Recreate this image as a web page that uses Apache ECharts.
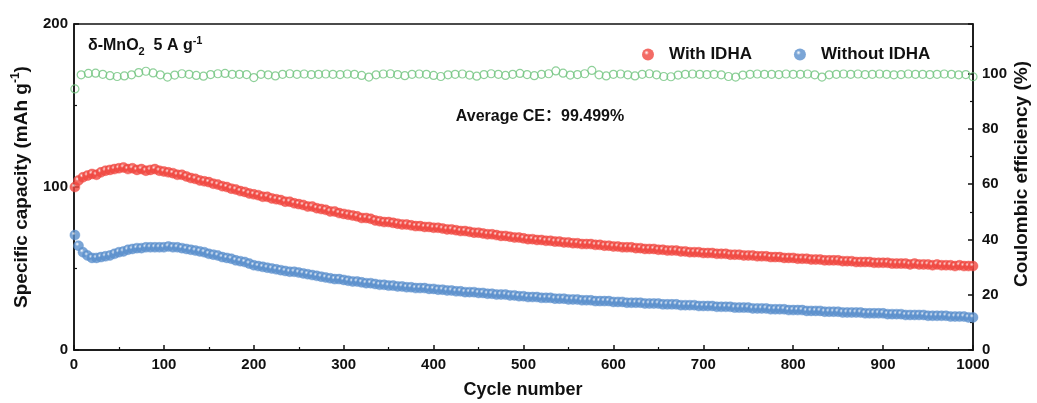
<!DOCTYPE html>
<html>
<head>
<meta charset="utf-8">
<script src="https://cdn.jsdelivr.net/npm/echarts@6/dist/echarts.min.js"></script>
<style>
    html, body { margin: 0; padding: 0; background: #fff; }
    #main { width: 1037px; height: 403px; }
</style>
</head>
<body>
<div id="main"></div>
<script>
// 容量 (mAh g-1)，第1圈以及之后每5圈一个点，到1000圈
var withIDHA = [
    100, 104, 106, 107, 108, 107.5, 109, 110, 110.5, 111, 111.5, 112, 111, 111.5, 110.5, 111, 110, 110.5, 111, 110,
    109.5, 109, 108.5, 107.5, 107.5, 106.5, 105.5, 105, 104, 103.5, 103, 102, 101.5, 100.5, 100, 99, 98.5, 97.5, 97, 96,
    95.5, 95, 94, 94, 93, 92.5, 92, 91, 91, 90, 89.5, 89, 88, 88, 87, 86.5, 86, 85, 85, 84,
    83.5, 83, 82.5, 82, 81, 81, 80.5, 79.5, 79, 78.5, 78.5, 78, 77.5, 77, 77, 76.5, 76, 76, 75.5, 75.5,
    75, 75, 74.5, 74, 74, 73.5, 73, 73, 72.5, 72, 72, 71.5, 71, 71, 70.5, 70, 70, 69.5, 69, 69,
    68.5, 68, 68, 67.5, 67.5, 67, 67, 66.5, 66.5, 66, 66, 65.5, 65.5, 65, 65, 65, 64.5, 64.5, 64, 64,
    63.5, 63.5, 63, 63, 63, 62.5, 62.5, 62, 62, 62, 61.5, 61.5, 61, 61, 61, 60.5, 60.5, 60, 60, 60,
    59.5, 59.5, 59.5, 59, 59, 59, 58.5, 58.5, 58.5, 58, 58, 58, 57.5, 57.5, 57.5, 57, 57, 57, 56.5, 56.5,
    56.5, 56, 56, 56, 55.5, 55.5, 55.5, 55, 55, 55, 55, 54.5, 54.5, 54.5, 54, 54, 54, 54, 53.5, 53.5,
    53.5, 53.5, 53, 53, 53, 53, 52.5, 53, 52.5, 52.5, 52.5, 52, 52.5, 52, 52, 52, 51.5, 52, 51.5, 51.5,
    51.5
];
var withoutIDHA = [
    70.5, 64, 60, 58, 56.5, 56.5, 57, 57.5, 58, 59, 60, 60.5, 61.5, 62, 62.5, 62.5, 63, 63, 63, 63,
    63, 63.5, 63, 63, 62.5, 62, 61.5, 61, 60.5, 60, 59, 58.5, 58, 57, 56.5, 56, 55, 54.5, 54, 53,
    52, 51.5, 51, 50.5, 50, 49.5, 49, 48.5, 48, 48, 47.5, 47, 46.5, 46, 45.5, 45, 44.5, 44, 43.5, 43.5,
    43, 42.5, 42, 42, 41.5, 41, 41, 40.5, 40, 40, 39.5, 39.5, 39, 39, 38.5, 38.5, 38, 38, 38, 37.5,
    37.5, 37, 37, 36.5, 36.5, 36, 36, 35.5, 35.5, 35.5, 35, 35, 34.5, 34.5, 34, 34, 34, 33.5, 33.5, 33,
    33, 32.5, 32.5, 32.5, 32, 32, 32, 31.5, 31.5, 31.5, 31, 31, 31, 30.5, 30.5, 30.5, 30, 30, 30, 30,
    29.5, 29.5, 29.5, 29, 29, 29, 29, 28.5, 28.5, 28.5, 28.5, 28, 28, 28, 28, 27.5, 27.5, 27.5, 27.5, 27,
    27, 27, 27, 26.5, 26.5, 26.5, 26.5, 26, 26, 26, 26, 25.5, 25.5, 25.5, 25.5, 25, 25, 25, 25, 24.5,
    24.5, 24.5, 24.5, 24, 24, 24, 24, 23.5, 23.5, 23.5, 23.5, 23, 23, 23, 23, 23, 22.5, 22.5, 22.5, 22.5,
    22.5, 22, 22, 22, 22, 21.5, 21.5, 21.5, 21.5, 21.5, 21, 21, 21, 21, 21, 20.5, 20.5, 20.5, 20.5, 20,
    20
];
// 库伦效率 (%)，第1圈以及之后每8圈一个点
var coulombicEff = [
    94.5, 99.6, 100.1, 100.2, 99.8, 99.3, 99.0, 99.2, 99.6, 100.4,
    100.9, 100.3, 99.6, 98.8, 99.5, 100.0, 99.8, 99.4, 99.1, 99.7,
    100.0, 100.1, 99.8, 99.8, 99.7, 98.6, 99.8, 99.6, 99.2, 99.8,
    100.0, 99.8, 99.9, 99.7, 99.8, 99.9, 99.8, 99.7, 99.9, 99.8,
    99.4, 98.8, 99.6, 99.9, 100.0, 99.7, 99.3, 99.8, 99.9, 99.8,
    99.4, 99.0, 99.6, 99.8, 99.9, 99.5, 99.1, 99.7, 100.0, 99.8,
    99.4, 99.8, 100.1, 99.7, 99.3, 99.8, 100.0, 101.0, 100.2, 99.5,
    99.7, 100.0, 101.2, 99.6, 99.2, 99.8, 99.9, 99.6, 99.2, 99.8,
    100.0, 99.6, 99.0, 98.9, 99.5, 99.8, 99.9, 99.8, 99.7, 99.8,
    99.6, 99.0, 98.8, 99.5, 99.8, 99.9, 99.8, 99.8, 99.7, 99.9,
    99.8, 99.8, 99.9, 99.6, 98.8, 99.6, 99.8, 99.9, 99.8, 99.9,
    99.7, 99.8, 99.9, 99.8, 99.6, 99.7, 99.9, 99.8, 99.8, 99.7,
    99.8, 99.9, 99.8, 99.6, 99.7, 98.9
];
var xTicks = [0, 100, 200, 300, 400, 500, 600, 700, 800, 900, 1000];
var capTicks = [0, 100, 200];
var ceTicks = [0, 20, 40, 60, 80, 100];

var capStep = 5;
var ceStep = 8;
function pairs(values, step) {
    return values.map(function (v, i) {
        return [i === 0 ? 1 : i * step, v];
    });
}

var FONT = 'Liberation Sans, Arial, Noto Sans CJK SC, sans-serif';
var RED = '#f0463f';
var BLUE = '#5a8fcc';
var GREEN = '#72c480';

// 带高光的小球
function ball(c) {
    return new echarts.graphic.RadialGradient(0.38, 0.35, 0.65, [
        { offset: 0, color: '#ffffff' },
        { offset: 0.3, color: c },
        { offset: 1, color: c }
    ]);
}

var myChart = echarts.init(document.getElementById('main'));

var labelStyle = { color: '#111', fontFamily: FONT, fontWeight: 'bold', fontSize: 15 };
var axisLineStyle = { lineStyle: { color: '#111', width: 1.5 } };
var tickStyle = { inside: true, length: 5, lineStyle: { color: '#111', width: 1.5 } };
var minorStyle = { show: true, splitNumber: 2, length: 3, lineStyle: { color: '#111', width: 1.2 } };

var option = {
    animation: false,
    grid: {
        left: 74, right: 64, top: 24, bottom: 53,
        show: true, borderColor: '#111', borderWidth: 1.5
    },
    legend: {
        left: 637, top: 41,
        itemWidth: 12, itemHeight: 12, itemGap: 42,
        textStyle: { color: '#111', fontFamily: FONT, fontWeight: 'bold', fontSize: 17, padding: [0, 0, 0, 10] },
        data: [
            { name: 'With IDHA', icon: 'circle', itemStyle: { color: ball(RED), borderWidth: 0 } },
            { name: 'Without IDHA', icon: 'circle', itemStyle: { color: ball(BLUE), borderWidth: 0 } }
        ]
    },
    xAxis: {
        type: 'value',
        min: xTicks[0], max: xTicks[xTicks.length - 1], interval: 100,
        axisLine: axisLineStyle,
        axisTick: tickStyle,
        minorTick: minorStyle,
        axisLabel: Object.assign({ margin: 7, formatter: function (v) { return String(v); } }, labelStyle),
        splitLine: { show: false }
    },
    yAxis: [{
        type: 'value',
        min: capTicks[0], max: capTicks[capTicks.length - 1], interval: 100,
        axisLine: axisLineStyle,
        axisTick: tickStyle,
        minorTick: minorStyle,
        axisLabel: Object.assign({ margin: 6 }, labelStyle),
        splitLine: { show: false }
    }, {
        type: 'value',
        position: 'right',
        min: ceTicks[0], max: 118, interval: 20,
        axisLine: { show: true, lineStyle: { color: '#111', width: 1.5 } },
        axisTick: tickStyle,
        minorTick: minorStyle,
        axisLabel: Object.assign({
            margin: 9,
            formatter: function (v) { return ceTicks.indexOf(v) >= 0 ? String(v) : ''; }
        }, labelStyle),
        splitLine: { show: false }
    }],
    series: [{
        name: 'CE',
        type: 'scatter',
        yAxisIndex: 1,
        symbol: 'circle',
        symbolSize: 8,
        itemStyle: { color: 'rgba(255,255,255,0)', borderColor: GREEN, borderWidth: 1.2 },
        data: pairs(coulombicEff, ceStep)
    }, {
        name: 'With IDHA',
        type: 'scatter',
        symbol: 'circle',
        symbolSize: 10,
        itemStyle: { color: ball(RED), borderColor: RED, borderWidth: 0.5 },
        data: pairs(withIDHA, capStep)
    }, {
        name: 'Without IDHA',
        type: 'scatter',
        symbol: 'circle',
        symbolSize: 10,
        itemStyle: { color: ball(BLUE), borderColor: BLUE, borderWidth: 0.5 },
        data: pairs(withoutIDHA, capStep)
    }],
    graphic: [{
        type: 'text', left: 88, top: 35,
        style: {
            text: '{a|δ-MnO}{s|2}{a|  5 A g}{p|-1}',
            fill: '#111', font: 'bold 16px ' + FONT,
            rich: {
                a: { fontFamily: FONT, fontWeight: 'bold', fontSize: 16, lineHeight: 22, fill: '#111' },
                s: { fontFamily: FONT, fontWeight: 'bold', fontSize: 11, lineHeight: 22, verticalAlign: 'bottom', fill: '#111' },
                p: { fontFamily: FONT, fontWeight: 'bold', fontSize: 11, lineHeight: 22, verticalAlign: 'top', fill: '#111' }
            }
        }
    }, {
        type: 'text', x: 540, y: 117,
        style: {
            text: 'Average CE：99.499%',
            fill: '#111', font: 'bold 16px ' + FONT,
            align: 'center', verticalAlign: 'middle'
        }
    }, {
        type: 'text', x: 523, y: 390,
        style: {
            text: 'Cycle number',
            fill: '#111', font: 'bold 18px ' + FONT,
            align: 'center', verticalAlign: 'middle'
        }
    }, {
        type: 'text', x: 22, y: 187, rotation: Math.PI / 2,
        style: {
            text: '{a|Specific capacity (mAh g}{p|-1}{a|)}',
            align: 'center', verticalAlign: 'middle',
            rich: {
                a: { fontFamily: FONT, fontWeight: 'bold', fontSize: 19, lineHeight: 24, fill: '#111' },
                p: { fontFamily: FONT, fontWeight: 'bold', fontSize: 12, lineHeight: 24, verticalAlign: 'top', fill: '#111' }
            }
        }
    }, {
        type: 'text', x: 1022, y: 174, rotation: Math.PI / 2,
        style: {
            text: 'Coulombic efficiency (%)',
            fill: '#111', font: 'bold 19px ' + FONT,
            align: 'center', verticalAlign: 'middle'
        }
    }]
};
myChart.setOption(option);
</script>
</body>
</html>
